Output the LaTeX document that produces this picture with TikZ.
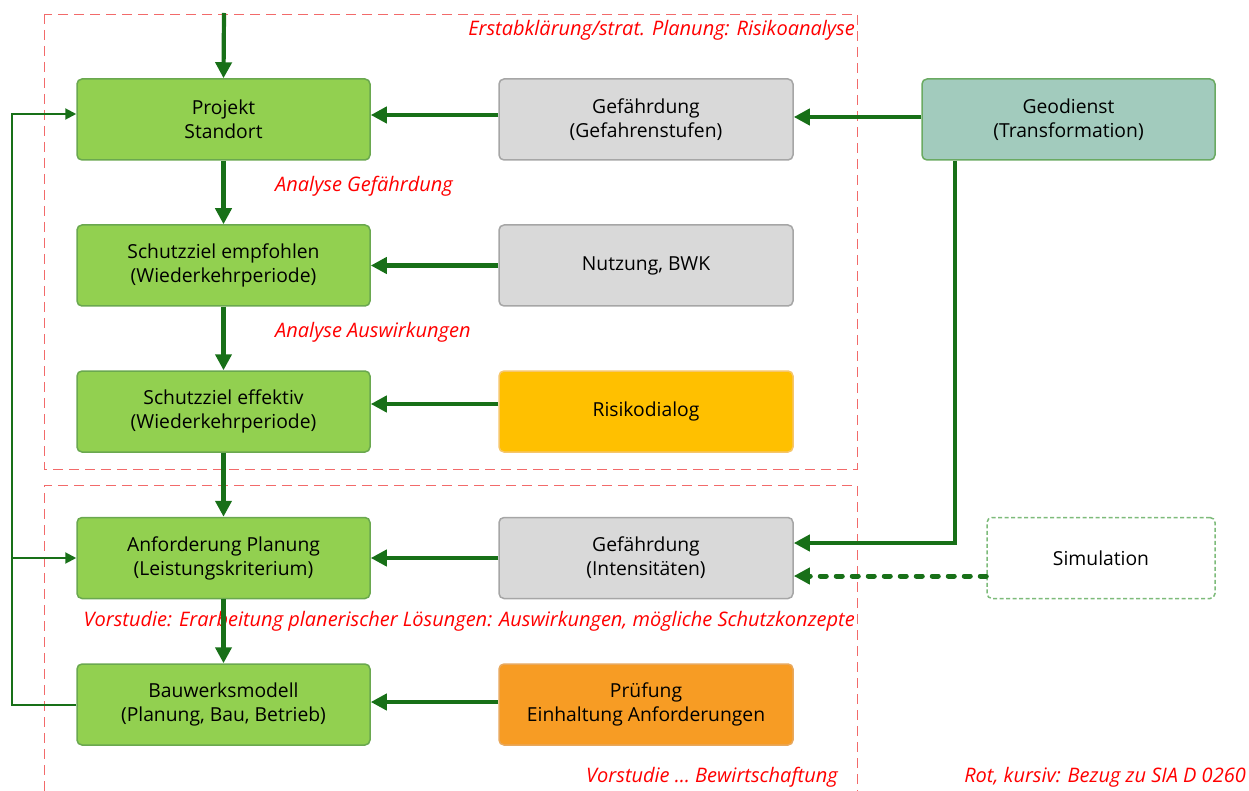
\documentclass[tikz,border=0pt]{standalone}
\usepackage{fontspec}
\setmainfont{Open Sans}
\usetikzlibrary{arrows.meta}
\definecolor{flowgreen}{HTML}{187018}
\definecolor{procfill}{HTML}{92D050}
\definecolor{procdraw}{HTML}{6AA84F}
\definecolor{grayfill}{HTML}{D9D9D9}
\definecolor{graydraw}{HTML}{A6A6A6}
\definecolor{yellowfill}{HTML}{FFC000}
\definecolor{yellowdraw}{HTML}{F6C66A}
\definecolor{orangefill}{HTML}{F79C24}
\definecolor{orangedraw}{HTML}{E8A85C}
\definecolor{geofill}{HTML}{A2CBBD}
\definecolor{geodraw}{HTML}{6AAA62}
\definecolor{simdraw}{HTML}{7DBB7A}
\definecolor{framered}{HTML}{F26A6A}
\definecolor{notered}{HTML}{FF0000}
\tikzset{
  box/.style={rectangle, rounded corners=5pt, line width=1.5pt, minimum height=81pt,
    align=center, font=\fontsize{19.3}{24}\selectfont, text=black},
  proc/.style={box, fill=procfill, draw=procdraw, minimum width=293pt},
  info/.style={box, fill=grayfill, draw=graydraw, minimum width=294pt},
  dialog/.style={box, fill=yellowfill, draw=yellowdraw, minimum width=294pt},
  check/.style={box, fill=orangefill, draw=orangedraw, minimum width=294pt},
  geo/.style={box, fill=geofill, draw=geodraw, minimum width=293pt},
  sim/.style={box, fill=white, draw=simdraw, dash pattern=on 4pt off 2.5pt, minimum width=228pt},
  flow/.style={draw=flowgreen, line width=4.2pt, -{Triangle[length=16pt,width=16pt]}},
  loopflow/.style={draw=flowgreen, line width=2pt, -{Triangle[length=11pt,width=11pt]}},
  dotflow/.style={draw=flowgreen, line width=5pt, line cap=round, dash pattern=on 6pt off 10pt,
    -{Triangle[length=16pt,width=16pt]}},
  frame/.style={draw=framered, line width=0.9pt, dash pattern=on 10pt off 6pt},
  note/.style={text=notered, font=\fontsize{20}{24}\selectfont\itshape, inner sep=0pt}
}
\begin{document}
\begin{tikzpicture}[x=1pt,y=-1pt]
\useasboundingbox (0,0) rectangle (1249,791);
% phase frames
\draw[frame] (44,14) rectangle (857,469);
\draw[frame] (857,800) -- (857,485) -- (44,485) -- (44,800);
% main process column
\node[proc] (proj) at (223.5,119.5) {Projekt\\Standort};
\node[proc] (szemp) at (223.5,265.5) {Schutzziel empfohlen\\(Wiederkehrperiode)};
\node[proc] (szeff) at (223.5,411.5) {Schutzziel effektiv\\(Wiederkehrperiode)};
\node[proc] (anf) at (223.5,558) {Anforderung Planung\\(Leistungskriterium)};
\node[proc] (bau) at (223.5,704.5) {Bauwerksmodell\\(Planung, Bau, Betrieb)};
% inputs
\node[info] (gef1) at (646,119.5) {Gefährdung\\(Gefahrenstufen)};
\node[info] (nutz) at (646,265.5) {Nutzung, BWK};
\node[dialog] (risk) at (646,411.5) {Risikodialog};
\node[info] (gef2) at (646,558) {Gefährdung\\(Intensitäten)};
\node[check] (pruef) at (646,704.5) {Prüfung\\Einhaltung Anforderungen};
\node[geo] (geo) at (1068.5,119.5) {Geodienst\\(Transformation)};
\node[sim] (sim) at (1101,558) {Simulation};
% phase notes
\node[note, anchor=east] (n1) at (855,30) {Erstabklärung/strat. Planung: Risikoanalyse};
\node[note, anchor=west] (n2) at (275,186) {Analyse Gefährdung};
\node[note, anchor=west] (n3) at (275,332) {Analyse Auswirkungen};
\node[note, anchor=east] (n4) at (855,621) {Vorstudie: Erarbeitung planerischer Lösungen: Auswirkungen, mögliche Schutzkonzepte};
\node[note, anchor=east] (n5) at (838,777) {Vorstudie … Bewirtschaftung};
\node[note, anchor=east] (n6) at (1246,777) {Rot, kursiv: Bezug zu SIA D 0260};
% flows
\coordinate (start) at (224,13);
\draw[flow] (start) -- (proj.north);
\draw[flow] (proj) -- (szemp);
\draw[flow] (szemp) -- (szeff);
\draw[flow] (szeff) -- (anf);
\draw[flow] (anf) -- (bau);
\draw[flow] ([yshift=4.5pt]gef1.west) -- ([yshift=4.5pt]proj.east);
\draw[flow] ([yshift=2.5pt]geo.west) -- ([yshift=2.5pt]gef1.east);
\draw[flow] (nutz.west) -- (szemp.east);
\draw[flow] ([yshift=7.5pt]risk.west) -- ([yshift=7.5pt]szeff.east);
\draw[flow] (gef2.west) -- (anf.east);
\draw[flow] ([yshift=2.5pt]pruef.west) -- ([yshift=2.5pt]bau.east);
\draw[flow] ([xshift=-113.5pt]geo.south) |- ([yshift=15pt]gef2.east);
\draw[dotflow] ([yshift=-18pt]sim.west) -- ([yshift=-18pt]gef2.east);
% feedback loop
\coordinate (loopx) at (12,0);
\coordinate (projin) at ([yshift=5.5pt]proj.west);
\draw[loopflow] ([yshift=-0.5pt]bau.west) -| (loopx |- projin) -- (projin);
\draw[loopflow] (loopx |- anf.west) -- (anf.west);
\end{tikzpicture}
\end{document}
